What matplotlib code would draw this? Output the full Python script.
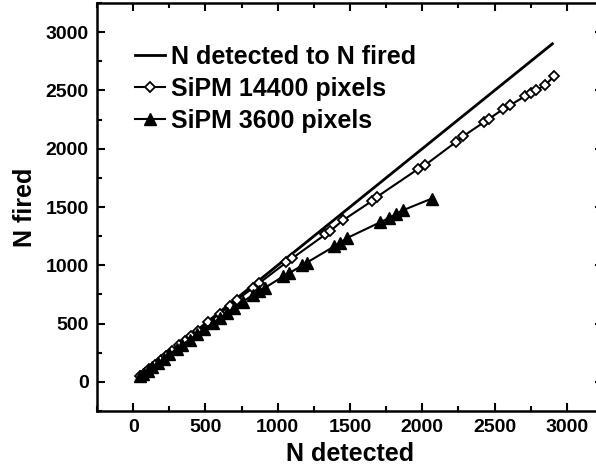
import matplotlib
matplotlib.use('Agg')
import matplotlib.pyplot as plt
from matplotlib.ticker import MultipleLocator

# ── data ────────────────────────────────────────────────────────────────────
ideal_x = [50, 2900]
ideal_y = [50, 2900]

sipm14400_x = [50, 80, 110, 150, 190, 230, 270, 320, 360, 400, 450, 520, 600,
               670, 720, 830, 870, 1060, 1100, 1330, 1360, 1450, 1650, 1690,
               1970, 2020, 2230, 2280, 2430, 2460, 2560, 2610, 2710, 2750,
               2790, 2850, 2910]
sipm14400_y = [50, 80, 108, 148, 187, 226, 265, 313, 352, 392, 440, 510, 585,
               655, 704, 808, 845, 1025, 1060, 1265, 1290, 1385, 1550, 1590,
               1825, 1860, 2055, 2105, 2230, 2255, 2340, 2375, 2450, 2475,
               2505, 2545, 2620]

sipm3600_x = [50, 70, 100, 130, 170, 210, 250, 300, 340, 390, 440, 490, 550,
              600, 650, 700, 760, 830, 870, 910, 1040, 1080, 1170, 1200, 1390,
              1430, 1480, 1710, 1770, 1820, 1870, 2065]
sipm3600_y = [48, 67, 96, 124, 162, 199, 237, 282, 318, 363, 407, 451, 503,
              547, 592, 635, 688, 748, 776, 806, 906, 932, 1000, 1022, 1162,
              1192, 1234, 1370, 1405, 1440, 1474, 1572]

labels = ['N detected to N fired', 'SiPM 14400 pixels', 'SiPM 3600 pixels']

plt.rcParams['font.family'] = ['Liberation Sans', 'DejaVu Sans']
plt.rcParams['font.weight'] = 'bold'

fig = plt.figure(figsize=(5.96, 4.75), dpi=100)
# right spine sits just past the image edge, as in the cropped original
ax = fig.add_axes([97 / 596, 64 / 475, 506 / 596, 408 / 475])

ax.plot(ideal_x, ideal_y, color='black', lw=2.0, label=labels[0])
ax.plot(sipm14400_x, sipm14400_y, color='black', lw=1.5, marker='D', ms=5.5,
        mfc='white', mec='black', mew=1.3, label=labels[1])
ax.plot(sipm3600_x, sipm3600_y, color='black', lw=1.5, marker='^', ms=8.5,
        mfc='black', mec='black', label=labels[2])

ax.set_xlim(-250, 3250)
ax.set_ylim(-250, 3250)
ax.xaxis.set_major_locator(MultipleLocator(500))
ax.xaxis.set_minor_locator(MultipleLocator(250))
ax.yaxis.set_major_locator(MultipleLocator(500))
ax.yaxis.set_minor_locator(MultipleLocator(250))
ax.tick_params(which='both', direction='in', top=True, right=True, width=1.5)
ax.tick_params(which='major', length=6, labelsize=14, pad=6)
ax.tick_params(which='minor', length=3.5)
for s in ax.spines.values():
    s.set_linewidth(1.8)

ax.set_xlabel('N detected', fontsize=18, fontweight='bold', labelpad=4)
ax.set_ylabel('N fired', fontsize=18, fontweight='bold', labelpad=6)

ax.legend(loc='upper left', frameon=False, fontsize=18, handlelength=1.2,
          handletextpad=0.25, labelspacing=0.32, borderaxespad=0.3,
          bbox_to_anchor=(0.04, 0.94))

fig.savefig('out.png', dpi=100)
